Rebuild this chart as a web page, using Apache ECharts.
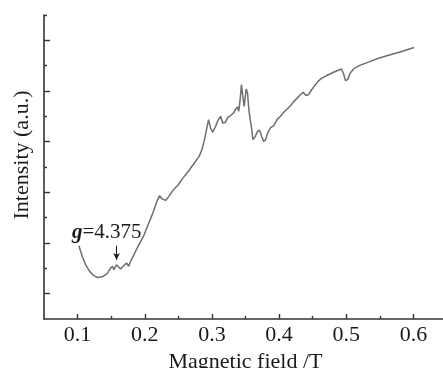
<!DOCTYPE html>
<html>
<head>
<meta charset="utf-8">
<style>
  html, body { margin: 0; padding: 0; background: #fff; }
  #chart { width: 443px; height: 368px; }
</style>
<script src="https://cdn.jsdelivr.net/npm/echarts@6/dist/echarts.min.js"></script>
</head>
<body>
<div id="chart"></div>
<script>
// Magnetic field (T) and EPR intensity (a.u.)
const fieldT = [
  0.102, 0.107, 0.112, 0.118, 0.124, 0.130, 0.138, 0.144, 0.149, 0.152,
  0.154, 0.158, 0.160, 0.164, 0.169, 0.173, 0.176, 0.179, 0.184, 0.190,
  0.198, 0.205, 0.212, 0.218, 0.222, 0.226, 0.231, 0.236, 0.242, 0.250,
  0.257, 0.265, 0.272, 0.281, 0.285, 0.289, 0.293, 0.295, 0.298, 0.301,
  0.305, 0.309, 0.313, 0.316, 0.320, 0.324, 0.328, 0.332, 0.335, 0.338,
  0.340, 0.342, 0.344, 0.346, 0.348, 0.351, 0.353, 0.355, 0.357, 0.359,
  0.361, 0.364, 0.368, 0.371, 0.374, 0.377, 0.380, 0.383, 0.387, 0.392,
  0.397, 0.402, 0.407, 0.412, 0.417, 0.422, 0.427, 0.432, 0.436, 0.440,
  0.444, 0.448, 0.453, 0.458, 0.463, 0.471, 0.481, 0.488, 0.493, 0.496,
  0.499, 0.502, 0.506, 0.511, 0.520, 0.533, 0.548, 0.563, 0.580, 0.601
];
const intensity = [
  2.89, 2.47, 2.14, 1.88, 1.71, 1.64, 1.68, 1.79, 2.01, 2.08,
  1.95, 2.14, 2.21, 1.97, 2.11, 2.21, 2.08, 2.28, 2.54, 2.87,
  3.26, 3.72, 4.18, 4.64, 4.87, 4.74, 4.68, 4.84, 5.08, 5.30,
  5.57, 5.83, 6.09, 6.42, 6.68, 7.08, 7.61, 7.87, 7.54, 7.37,
  7.57, 7.84, 8.00, 7.74, 7.76, 7.97, 8.03, 8.13, 8.26, 8.37,
  8.20, 8.66, 9.25, 8.79, 8.39, 9.08, 8.92, 8.26, 7.87, 7.54,
  7.08, 7.18, 7.41, 7.45, 7.21, 7.01, 7.08, 7.34, 7.54, 7.63,
  7.87, 8.00, 8.16, 8.29, 8.42, 8.59, 8.72, 8.86, 8.95, 8.82,
  8.86, 9.03, 9.21, 9.38, 9.50, 9.61, 9.74, 9.82, 9.87, 9.68,
  9.41, 9.45, 9.71, 9.87, 10.01, 10.14, 10.29, 10.41, 10.54, 10.72
];

// tick positions
const xMajorTicks = [0.1, 0.2, 0.3, 0.4, 0.5, 0.6];
const xMinorTicks = [0.15, 0.25, 0.35, 0.45, 0.55];
const yMajorTicks = [1, 3, 5, 7, 9, 11];
const yMinorTicks = [2, 4, 6, 8, 10, 12];

// g-factor annotation
const gLabel = { x: 0.1434, y: 3.41, text: '4.375' };
const gArrow = { x: 0.158, from: 2.89, to: 2.33 };

const FONT = '"Liberation Serif", "Times New Roman", serif';
const INK = '#1a1a1a';

const chart = echarts.init(document.getElementById('chart'));

const option = {
  backgroundColor: '#fff',
  animation: false,
  // v6 shrinks the grid to fit labels by default; keep it fixed
  grid: { left: 44, top: 15, width: 403, height: 304, outerBoundsMode: 'none', containLabel: false },
  xAxis: [
    {
      type: 'value', min: 0.05, max: 0.65,
      splitLine: { show: false },
      axisLine: { show: true, lineStyle: { color: '#333', width: 1.6 } },
      axisTick: { show: true, inside: true, length: 5, customValues: xMajorTicks,
        lineStyle: { color: '#333', width: 1.4 } },
      axisLabel: { customValues: xMajorTicks, formatter: v => v.toFixed(1),
        margin: 5, fontFamily: FONT, fontSize: 22, color: INK },
      name: 'Magnetic field /T', nameLocation: 'middle', nameGap: 25,
      nameTextStyle: { fontFamily: FONT, fontSize: 22, color: INK }
    },
    {
      type: 'value', min: 0.05, max: 0.65, position: 'bottom',
      splitLine: { show: false },
      axisLine: { show: false },
      axisTick: { show: true, inside: true, length: 3, customValues: xMinorTicks,
        lineStyle: { color: '#333', width: 1.4 } },
      axisLabel: { show: false }
    }
  ],
  yAxis: [
    {
      type: 'value', min: 0, max: 12,
      splitLine: { show: false },
      axisLine: { show: true, lineStyle: { color: '#333', width: 1.6 } },
      axisTick: { show: true, inside: true, length: 6, customValues: yMajorTicks,
        lineStyle: { color: '#333', width: 1.4 } },
      axisLabel: { show: false }
    },
    {
      type: 'value', min: 0, max: 12, position: 'left',
      splitLine: { show: false },
      axisLine: { show: false },
      axisTick: { show: true, inside: true, length: 3, customValues: yMinorTicks,
        lineStyle: { color: '#333', width: 1.4 } },
      axisLabel: { show: false }
    }
  ],
  graphic: [{
    type: 'text', x: 22, y: 155, rotation: Math.PI / 2,
    style: { text: 'Intensity (a.u.)', font: '22px ' + FONT, fill: INK,
      textAlign: 'center', textVerticalAlign: 'middle' }
  }],
  series: [{
    type: 'line',
    data: fieldT.map((f, i) => [f, intensity[i]]),
    showSymbol: false,
    lineStyle: { color: '#6e6e6e', width: 1.5 },
    markPoint: {
      symbol: 'circle', symbolSize: 0,
      data: [{ coord: [gLabel.x, gLabel.y] }],
      label: {
        show: true, position: 'inside',
        formatter: '{i|g}={n|' + gLabel.text + '}',
        rich: {
          i: { fontFamily: FONT, fontSize: 21, fontStyle: 'italic', fontWeight: 'bold', color: INK },
          n: { fontFamily: FONT, fontSize: 21, color: INK }
        },
        fontFamily: FONT, fontSize: 21, color: INK
      }
    },
    markLine: {
      silent: true,
      symbol: ['none', 'arrow'], symbolSize: [5, 7],
      label: { show: false },
      lineStyle: { color: INK, width: 1, type: 'solid' },
      data: [[{ coord: [gArrow.x, gArrow.from] }, { coord: [gArrow.x, gArrow.to] }]]
    }
  }]
};

chart.setOption(option);
</script>
</body>
</html>
